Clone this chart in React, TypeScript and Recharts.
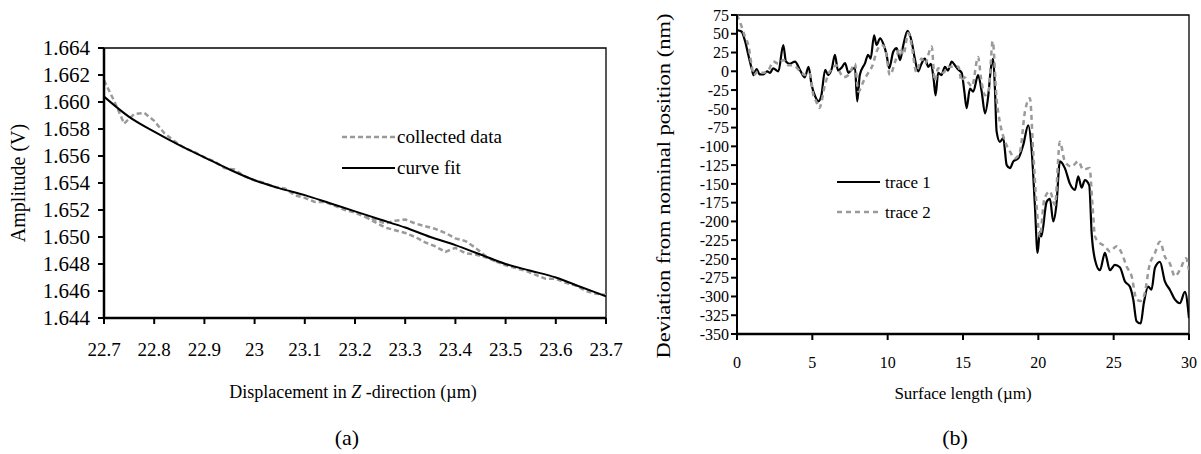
import React from 'react';
import { LineChart, Line, XAxis, YAxis, ReferenceArea, Legend, Label } from 'recharts';

const FONT = "'Liberation Serif', 'DejaVu Serif', serif";
const GRAY = '#9a9a9a';

// (a) amplitude vs displacement
const FIT_X = [22.7, 22.75, 22.8, 22.85, 22.9, 22.95, 23.0, 23.05, 23.1, 23.15, 23.2, 23.25, 23.3, 23.35, 23.4, 23.45, 23.5, 23.55, 23.6, 23.65, 23.7];
const FIT_Y = [1.6604, 1.6589, 1.6578, 1.6568, 1.6559, 1.655, 1.6542, 1.6536, 1.6531, 1.6525, 1.6519, 1.6513, 1.6507, 1.65, 1.6494, 1.6487, 1.648, 1.6475, 1.647, 1.6463, 1.6456];

const DATA_X = [22.7, 22.72, 22.74, 22.76, 22.78, 22.8, 22.82, 22.84, 22.86, 22.88, 22.9, 22.92, 22.94, 22.96, 22.98, 23.0, 23.02, 23.04, 23.06, 23.08, 23.1, 23.12, 23.14, 23.16, 23.18, 23.2, 23.22, 23.24, 23.26, 23.28, 23.3, 23.32, 23.34, 23.36, 23.38, 23.4, 23.42, 23.44, 23.46, 23.48, 23.5, 23.52, 23.54, 23.56, 23.58, 23.6, 23.62, 23.64, 23.66, 23.68, 23.7];
const DATA_Y = [1.6616, 1.6601, 1.6584, 1.6591, 1.6592, 1.6586, 1.6577, 1.6571, 1.6566, 1.6563, 1.6559, 1.6556, 1.6551, 1.655, 1.6545, 1.6542, 1.654, 1.6537, 1.6536, 1.6531, 1.6529, 1.6526, 1.6526, 1.6523, 1.652, 1.6518, 1.6515, 1.6513, 1.651, 1.6512, 1.6513, 1.651, 1.6508, 1.6506, 1.6503, 1.6499, 1.6497, 1.6492, 1.6486, 1.6482, 1.6479, 1.6477, 1.6475, 1.6472, 1.6469, 1.6469, 1.6466, 1.6464, 1.646, 1.6458, 1.6457];

// lower branch of the collected data (return pass)
const RETURN_X = [23.22, 23.24, 23.26, 23.28, 23.3, 23.32, 23.34, 23.36, 23.38, 23.4, 23.42, 23.44, 23.46, 23.48];
const RETURN_Y = [1.6515, 1.6511, 1.6507, 1.6505, 1.6503, 1.65, 1.6496, 1.6493, 1.6489, 1.6492, 1.6488, 1.6487, 1.6485, 1.6482];

const AMP_X_TICKS = [22.7, 22.8, 22.9, 23.0, 23.1, 23.2, 23.3, 23.4, 23.5, 23.6, 23.7];
const AMP_Y_TICKS = [1.644, 1.646, 1.648, 1.65, 1.652, 1.654, 1.656, 1.658, 1.66, 1.662, 1.664];

// (b) deviation vs surface length
const T1_X = [0, 0.3, 0.55, 0.75, 0.97, 1.1, 1.3, 1.5, 1.75, 2.0, 2.2, 2.4, 2.75, 3.07, 3.25, 3.5, 3.85, 4.2, 4.5, 4.75, 4.95, 5.2, 5.4, 5.6, 5.85, 6.05, 6.3, 6.5, 6.7, 6.95, 7.17, 7.4, 7.6, 7.83, 7.98, 8.15, 8.5, 8.7, 8.87, 9.1, 9.26, 9.5, 9.7, 9.93, 10.1, 10.37, 10.6, 10.82, 11.04, 11.32, 11.6, 11.8, 12.03, 12.2, 12.47, 12.7, 12.87, 13.05, 13.18, 13.35, 13.57, 13.8, 14.0, 14.25, 14.46, 14.7, 14.91, 15.09, 15.24, 15.46, 15.68, 16.0, 16.24, 16.46, 16.68, 16.85, 17.0, 17.12, 17.23, 17.45, 17.67, 17.9, 18.12, 18.34, 18.67, 19.0, 19.33, 19.55, 19.77, 19.95, 20.1, 20.2, 20.55, 20.77, 20.99, 21.2, 21.43, 21.76, 22.1, 22.43, 22.65, 22.87, 23.09, 23.38, 23.54, 23.76, 24.09, 24.42, 24.75, 25.08, 25.41, 25.75, 26.08, 26.3, 26.52, 26.79, 27.0, 27.29, 27.51, 27.74, 28.07, 28.4, 28.73, 29.06, 29.39, 29.73, 30.0];
const T1_Y = [55, 53, 39, 22, 4, -5, 3, -4, -4, 0, -2, 4, 0, 35, 13, 10, 13, 1, -8, 6, -18, -34, -40, -32, 2, -5, 4, 22, 1, 5, 11, -2, 2, 5, -40, -5, 11, 22, 17, 48, 35, 44, 37, 22, 4, 26, 31, 15, 35, 54, 39, 17, 0, 8, 17, 6, 10, -10, -32, -2, -5, 6, 1, 13, 8, 2, -2, -27, -49, -23, -27, -5, -27, -56, -32, 4, 17, -23, -80, -94, -89, -125, -129, -120, -116, -98, -72, -103, -178, -242, -214, -220, -174, -170, -200, -178, -120, -129, -150, -158, -140, -155, -145, -152, -216, -251, -265, -242, -265, -258, -261, -280, -287, -304, -333, -336, -309, -287, -291, -262, -254, -280, -291, -304, -309, -294, -329];

const T2_X = [0, 0.3, 0.53, 0.75, 0.97, 1.1, 1.4, 1.75, 2.1, 2.41, 2.75, 3.07, 3.4, 3.7, 4.2, 4.5, 4.8, 5.07, 5.25, 5.46, 5.84, 6.1, 6.3, 6.6, 6.8, 7.06, 7.4, 7.83, 8.05, 8.4, 8.71, 9.0, 9.26, 9.6, 9.82, 10.15, 10.5, 10.82, 11.04, 11.37, 11.59, 11.9, 12.25, 12.47, 12.92, 13.13, 13.35, 13.7, 14.0, 14.46, 14.7, 14.9, 15.1, 15.35, 15.6, 16.0, 16.2, 16.46, 16.7, 16.97, 17.23, 17.45, 17.8, 18.12, 18.45, 18.78, 19.11, 19.44, 19.66, 19.88, 20.1, 20.4, 20.77, 21.1, 21.43, 21.76, 22.2, 22.65, 22.98, 23.4, 23.6, 23.76, 24.09, 24.42, 24.75, 25.2, 25.53, 25.86, 26.19, 26.52, 26.79, 27.07, 27.36, 27.74, 28.07, 28.4, 28.73, 29.06, 29.39, 29.8, 30.0];
const T2_Y = [75, 60, 46, 35, 8, -5, 0, -2, 2, 13, 10, 15, 8, 8, 0, -5, -2, -32, -40, -49, -18, -2, 3, 8, 0, -8, -5, 10, -27, -13, -2, 8, 26, 35, 31, -5, 13, 31, 22, 51, 35, -1, 17, 10, 33, -13, 4, -2, 6, 6, 6, -13, -8, -15, -20, 19, -10, -32, -27, 40, -37, -68, -94, -107, -116, -107, -54, -36, -107, -178, -220, -170, -160, -178, -94, -120, -127, -120, -131, -129, -180, -220, -229, -233, -240, -233, -242, -260, -273, -304, -306, -295, -260, -242, -227, -247, -256, -273, -265, -249, -265];

const DEV_X_TICKS = [0, 5, 10, 15, 20, 25, 30];
const DEV_Y_TICKS = [75, 50, 25, 0, -25, -50, -75, -100, -125, -150, -175, -200, -225, -250, -275, -300, -325, -350];

const zip = (xs: number[], ys: number[]) => xs.map((x, i) => ({ x, y: ys[i] }));

const axisLine = { stroke: '#000', strokeWidth: 2.5 };
const tickLine = { stroke: '#000', strokeWidth: 2 };

function legendContent(lineLen: number, rowH: number, fontSize: number, gap: number) {
  return ({ payload }: any) => (
    <div style={{ fontFamily: FONT, fontSize, color: '#000', lineHeight: 1 }}>
      {(payload || []).filter((e: any) => e.type !== 'none').map((e: any) => (
        <div key={e.value} style={{ display: 'flex', alignItems: 'center', height: rowH }}>
          <svg width={lineLen} height={8} style={{ marginRight: gap }}>
            <line x1={0} x2={lineLen} y1={4} y2={4} stroke={e.color}
              strokeWidth={e.payload?.strokeWidth ?? 2} strokeDasharray={e.payload?.strokeDasharray} />
          </svg>
          <span>{e.value}</span>
        </div>
      ))}
    </div>
  );
}

function title(x: number, y: number, size: number, text: React.ReactNode, opts: any = {}) {
  return () => (
    <text x={x} y={y} style={{ fontFamily: FONT }} fontSize={size} fill="#000" textAnchor="middle"
      dominantBaseline="central" transform={opts.rotate ? `rotate(-90 ${x} ${y})` : undefined}
      textLength={opts.len} lengthAdjust={opts.len ? 'spacingAndGlyphs' : undefined}>
      {text}
    </text>
  );
}

function AmplitudeChart() {
  return (
    <LineChart width={640} height={454} margin={{ top: 48, right: 34, bottom: 106, left: 0 }} style={{ fontFamily: FONT }}>
      <ReferenceArea x1={22.7} x2={23.7} y1={1.644} y2={1.664} fill="none" fillOpacity={0} stroke="#000" strokeWidth={1.3} ifOverflow="visible" />
      <XAxis type="number" dataKey="x" domain={[22.7, 23.7]} ticks={AMP_X_TICKS} interval={0} allowDataOverflow
        height={30} tickSize={6} tickMargin={19} axisLine={axisLine} tickLine={tickLine}
        tick={{ fill: '#000', fontSize: 19, style: { fontFamily: FONT } }} tickFormatter={(v: number) => String(+v.toFixed(1))}>
        <Label content={title(353, 392, 18, <>Displacement in <tspan fontStyle="italic">Z</tspan> -direction (µm)</>)} />
        <Label content={title(347, 437, 22, '(a)')} />
      </XAxis>
      <YAxis type="number" domain={[1.644, 1.664]} ticks={AMP_Y_TICKS} interval={0} allowDataOverflow
        width={104} tickSize={6} tickMargin={8} axisLine={axisLine} tickLine={tickLine}
        tick={{ fill: '#000', fontSize: 21, style: { fontFamily: FONT } }} tickFormatter={(v: number) => v.toFixed(3)}>
        <Label content={title(18, 183, 20, 'Amplitude (V)', { rotate: true })} />
      </YAxis>
      <Legend layout="vertical" align="center" verticalAlign="middle"
        wrapperStyle={{ left: 342, top: 121, width: 200 }} content={legendContent(53, 31, 19, 2)} />
      <Line data={zip(DATA_X, DATA_Y)} dataKey="y" name="collected data" type="linear" stroke={GRAY}
        strokeWidth={2.5} strokeDasharray="5 3" dot={false} activeDot={false} isAnimationActive={false} />
      <Line data={zip(RETURN_X, RETURN_Y)} dataKey="y" name="collected data (return)" legendType="none" type="linear"
        stroke={GRAY} strokeWidth={2.5} strokeDasharray="5 3" dot={false} activeDot={false} isAnimationActive={false} />
      <Line data={zip(FIT_X, FIT_Y)} dataKey="y" name="curve fit" type="monotone" stroke="#000"
        strokeWidth={2} dot={false} activeDot={false} isAnimationActive={false} />
    </LineChart>
  );
}

function DeviationChart() {
  return (
    <LineChart width={581} height={454} margin={{ top: 15, right: 12, bottom: 90, left: 57 }} style={{ fontFamily: FONT }}>
      <ReferenceArea x1={0} x2={30} y1={-350} y2={75} fill="none" fillOpacity={0} stroke="#000" strokeWidth={1.3} ifOverflow="visible" />
      <XAxis type="number" dataKey="x" domain={[0, 30]} ticks={DEV_X_TICKS} interval={0} allowDataOverflow
        height={30} tickSize={6} tickMargin={17} axisLine={axisLine} tickLine={tickLine}
        tick={{ fill: '#000', fontSize: 16, style: { fontFamily: FONT } }}>
        <Label content={title(343, 393, 17, 'Surface length (µm)')} />
        <Label content={title(335, 437, 22, '(b)')} />
      </XAxis>
      <YAxis type="number" domain={[-350, 75]} ticks={DEV_Y_TICKS} interval={0} allowDataOverflow
        width={60} tickSize={6} tickMargin={2} axisLine={{ stroke: '#000', strokeWidth: 2 }} tickLine={tickLine}
        tick={{ fill: '#000', fontSize: 16, style: { fontFamily: FONT } }}>
        <Label content={title(43, 186, 19, 'Deviation from nominal position (nm)', { rotate: true, len: 345 })} />
      </YAxis>
      <Legend layout="vertical" align="center" verticalAlign="middle"
        wrapperStyle={{ left: 217, top: 167, width: 150 }} content={legendContent(43, 30, 17, 5)} />
      <Line data={zip(T1_X, T1_Y)} dataKey="y" name="trace 1" type="monotone" stroke="#000"
        strokeWidth={2.2} dot={false} activeDot={false} isAnimationActive={false} />
      <Line data={zip(T2_X, T2_Y)} dataKey="y" name="trace 2" type="monotone" stroke={GRAY}
        strokeWidth={2.5} strokeDasharray="5 4" dot={false} activeDot={false} isAnimationActive={false} />
    </LineChart>
  );
}

export default function App() {
  return (
    <div style={{ position: 'absolute', left: 0, top: 0, width: 1201, height: 454, background: '#fff', fontFamily: FONT }}>
      <div style={{ position: 'absolute', left: 0, top: 0 }}>
        <AmplitudeChart />
      </div>
      <div style={{ position: 'absolute', left: 620, top: 0 }}>
        <DeviationChart />
      </div>
    </div>
  );
}
